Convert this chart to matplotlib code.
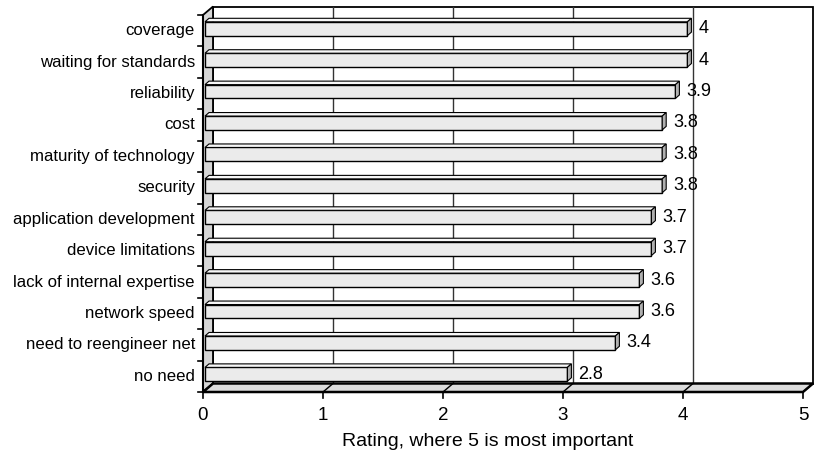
import matplotlib
matplotlib.use('Agg')
import matplotlib.pyplot as plt
from matplotlib.patches import Polygon

categories = ['coverage', 'waiting for standards', 'reliability', 'cost',
              'maturity of technology', 'security', 'application development',
              'device limitations', 'lack of internal expertise', 'network speed',
              'need to reengineer net', 'no need']
# bar lengths as drawn in the picture
values = [4.02, 4.02, 3.92, 3.81, 3.81, 3.81, 3.72, 3.72, 3.62, 3.62, 3.42, 3.02]
# data labels as printed
value_labels = ['4', '4', '3.9', '3.8', '3.8', '3.8', '3.7', '3.7', '3.6', '3.6', '3.4', '2.8']
x_ticks = [0, 1, 2, 3, 4, 5]
x_title = 'Rating, where 5 is most important'

plt.rcParams['font.family'] = ['Liberation Sans', 'DejaVu Sans']

fig = plt.figure(figsize=(8.14, 4.59), dpi=100)
ax = fig.add_axes([0, 0, 1, 1])
ax.axis('off')

# front plane: x 0..5 -> px 203..803, rows 0..12 -> px 15..392
UX = 120.0
UY = (392 - 15) / 12
n = len(categories)
xmax = x_ticks[-1]
ax.set_xlim(-203 / UX, (814 - 203) / UX)
ax.set_ylim((459 - 15) / UY, -15 / UY)

# depth of the 3d box
DX = 10 / UX
DY = 8.5 / UY

# back wall
ax.add_patch(Polygon([(DX, -DY), (xmax + DX, -DY), (xmax + DX, n - DY), (DX, n - DY)],
                     closed=True, facecolor='white', edgecolor='black', lw=1.3, zorder=1))
for k in x_ticks[1:-1]:
    ax.plot([k + DX, k + DX], [-DY, n - DY], color='#333333', lw=1, zorder=2)

# left wall
ax.add_patch(Polygon([(0, 0), (0, n), (DX, n - DY), (DX, -DY)],
                     closed=True, facecolor='#d6d6d6', edgecolor='black', lw=1.3, zorder=3))

# floor
ax.add_patch(Polygon([(0, n), (xmax, n), (xmax + DX, n - DY), (DX, n - DY)],
                     closed=True, facecolor='#dcdcdc', edgecolor='black', lw=1.8, zorder=3))
for k in x_ticks:
    ax.plot([k, k + DX], [n, n - DY], color='black', lw=1, zorder=4)
    ax.plot([k, k], [n, n + 6 / UY], color='black', lw=1.2, zorder=4)
    ax.text(k, n + 23 / UY, str(k), ha='center', va='center', fontsize=13.5, zorder=5)

# left axis
ax.plot([0, 0], [0, n], color='black', lw=1.5, zorder=4)
for r in range(n + 1):
    ax.plot([0, -5 / UX], [r, r], color='black', lw=1.2, zorder=4)

# bars
h = 0.44
bx = 2 / UX
by = 2 / UY
ddx = 4 / UX
ddy = 3.5 / UY
centers = [i + 0.5 for i in range(n)]
ax.barh([c - by for c in centers], values, height=h, left=bx,
        color='#ebebeb', edgecolor='black', lw=1, zorder=6)
for c, v, lab, cat in zip(centers, values, value_labels, categories):
    top = c - by - h / 2
    bot = c - by + h / 2
    ax.add_patch(Polygon([(bx, top), (v + bx, top), (v + bx + ddx, top - ddy), (bx + ddx, top - ddy)],
                         closed=True, facecolor='#f7f7f7', edgecolor='black', lw=0.8, zorder=6))
    ax.add_patch(Polygon([(v + bx, top), (v + bx, bot), (v + bx + ddx, bot - ddy), (v + bx + ddx, top - ddy)],
                         closed=True, facecolor='#b0b0b0', edgecolor='black', lw=0.8, zorder=6))
    ax.text(v + bx + ddx + 7 / UX, c - by, lab, ha='left', va='center', fontsize=13, zorder=7)
    ax.text(-8 / UX, c, cat, ha='right', va='center', fontsize=12.1, zorder=7)

ax.text((488 - 203) / UX, n + 49 / UY, x_title, ha='center', va='center', fontsize=14)

fig.savefig('out.png', dpi=100)
